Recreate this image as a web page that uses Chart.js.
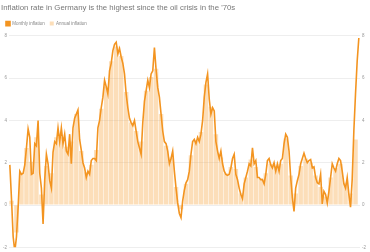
<!DOCTYPE html>
<html>
<head>
<meta charset="utf-8">
<script src="https://cdn.jsdelivr.net/npm/chart.js@4"></script>
<style>
  html, body { margin: 0; padding: 0; background: #fff; }
  #wrap { width: 370px; height: 252px; }
</style>
</head>
<body>
<div id="wrap"><canvas id="grafico"></canvas></div>
<script>
// annual averages, one per year from 1952
const firstYear = 1952;
const annualRate = [
  0.2, -1.3, 1.5, 2.7, 2.05, 3.2, 0.5, 1.85, 1.5, 3.2,
  3.2, 2.75, 3.0, 4.3, 2.55, 1.55, 1.9, 2.6, 4.55, 5.6,
  6.8, 7.5, 7.05, 5.35, 3.9, 3.5, 3.0, 5.4, 6.05, 6.45,
  4.3, 2.8, 2.25, 0.85, -0.2, 1.0, 2.35, 3.05, 3.45, 5.7,
  4.65, 3.35, 2.25, 1.5, 1.8, 1.7, 0.55, 1.3, 2.15, 1.8,
  1.25, 1.5, 1.95, 1.85, 1.95, 3.15, 1.4, 0.55, 1.85, 2.2,
  2.0, 1.4, 0.85, 0.4, 1.3, 1.75, 1.95, 1.05, 0.55, 3.1
];

// year-on-year rate, read every 4 months from Jan 1952
const monthlyRate = [
  1.9, 0.3, -1.5, -2.2, -1.5, -0.1, 1.6, 1.45, 1.5, 1.9,
  2.7, 3.6, 3.2, 1.45, 1.5, 2.9, 2.8, 4.0, 1.5, 0.8,
  -0.9, 1.2, 2.4, 1.95, 1.15, 0.8, 2.5, 3.0, 2.9, 3.65,
  3.0, 3.65, 2.9, 3.35, 2.55, 2.4, 3.35, 1.95, 3.65, 4.1,
  4.3, 4.5, 3.1, 2.6, 2.0, 1.75, 1.3, 1.6, 1.45, 2.1,
  2.2, 2.2, 2.1, 3.65, 4.0, 4.6, 5.1, 5.9, 5.6, 5.25,
  6.35, 6.7, 7.3, 7.6, 7.7, 7.15, 7.4, 7.0, 6.7, 6.2,
  5.25, 4.6, 4.1, 3.9, 3.75, 4.0, 3.5, 3.0, 2.7, 2.4,
  3.9, 4.9, 5.4, 5.9, 5.55, 6.2, 6.35, 7.45, 6.4, 5.55,
  5.1, 4.3, 3.5, 3.0, 2.9, 2.55, 1.95, 2.2, 2.55, 1.6,
  0.8, 0.1, -0.4, -0.6, 0.2, 0.7, 1.05, 1.2, 1.6, 2.4,
  3.0, 3.1, 2.9, 3.2, 3.0, 3.35, 4.0, 5.1, 5.8, 6.2,
  5.0, 4.3, 4.6, 4.45, 3.0, 2.55, 2.2, 2.55, 1.95, 1.6,
  1.45, 1.4, 1.45, 1.75, 2.2, 2.4, 1.45, 1.2, 0.8, 0.5,
  0.3, 1.0, 1.3, 1.6, 1.95, 1.85, 2.7, 1.95, 2.1, 1.3,
  1.3, 1.2, 1.2, 1.0, 1.45, 2.1, 2.2, 1.9, 1.75, 2.0,
  1.6, 1.95, 1.6, 2.1, 2.2, 2.9, 3.35, 3.2, 2.55, 1.3,
  0.35, -0.3, 0.8, 1.15, 1.45, 1.95, 2.2, 2.45, 2.2, 2.0,
  2.1, 2.15, 1.75, 1.8, 1.3, 1.05, 1.0, 1.45, 0.05, 0.65,
  0.5, 0.1, 0.65, 1.3, 1.95, 1.75, 1.6, 1.95, 2.2, 2.1,
  1.6, 1.0, 0.8, 1.3, 0.5, -0.1, 1.2, 3.5, 5.25, 6.8,
  7.9
];

const yTicks = [-2, 0, 2, 4, 6, 8];

const laranja = '#f39420';
const laranjaClaro = 'rgba(246, 168, 70, 0.38)';

const barras = annualRate.map((v, i) => ({ x: firstYear + i + 0.5, y: v }));
const linha = monthlyRate.map((v, i) => ({ x: firstYear + (i + 0.5) / 3, y: v }));

const eixoY = (pos) => ({
  position: pos,
  min: yTicks[0],
  max: yTicks[yTicks.length - 1],
  afterBuildTicks: axis => { axis.ticks = yTicks.map(v => ({ value: v })); },
  border: { display: false },
  grid: { display: pos === 'left', color: '#eeeeee', lineWidth: 1, drawTicks: false },
  ticks: { color: '#999', font: { size: 4.5, family: 'Liberation Sans' }, padding: 2 }
});

new Chart(document.getElementById('grafico'), {
  data: {
    datasets: [
      {
        type: 'line',
        label: 'Monthly inflation',
        data: linha,
        borderColor: laranja,
        backgroundColor: laranja,
        borderWidth: 1.6,
        pointRadius: 0,
        tension: 0,
        order: 1
      },
      {
        type: 'bar',
        label: 'Annual inflation',
        data: barras,
        backgroundColor: laranjaClaro,
        borderWidth: 0,
        barPercentage: 1,
        categoryPercentage: 0.9,
        order: 2
      }
    ]
  },
  options: {
    responsive: true,
    maintainAspectRatio: false,
    animation: false,
    layout: { padding: { left: 1, right: 2, top: 1, bottom: 4 } },
    plugins: {
      title: {
        display: true,
        text: "Inflation rate in Germany is the highest since the oil crisis in the '70s",
        align: 'start',
        color: '#777',
        font: { size: 7.8, weight: 'normal', family: 'Liberation Sans' },
        padding: { top: 2, bottom: 4 }
      },
      legend: {
        align: 'start',
        labels: {
          boxWidth: 4,
          boxHeight: 4,
          padding: 5,
          color: '#888',
          font: { size: 4.5, family: 'Liberation Sans' }
        }
      },
      tooltip: { enabled: false }
    },
    scales: {
      x: {
        type: 'linear',
        min: firstYear,
        max: 2022.4,
        display: false,
        offset: false
      },
      y: eixoY('left'),
      y2: eixoY('right')
    }
  }
});
</script>
</body>
</html>
